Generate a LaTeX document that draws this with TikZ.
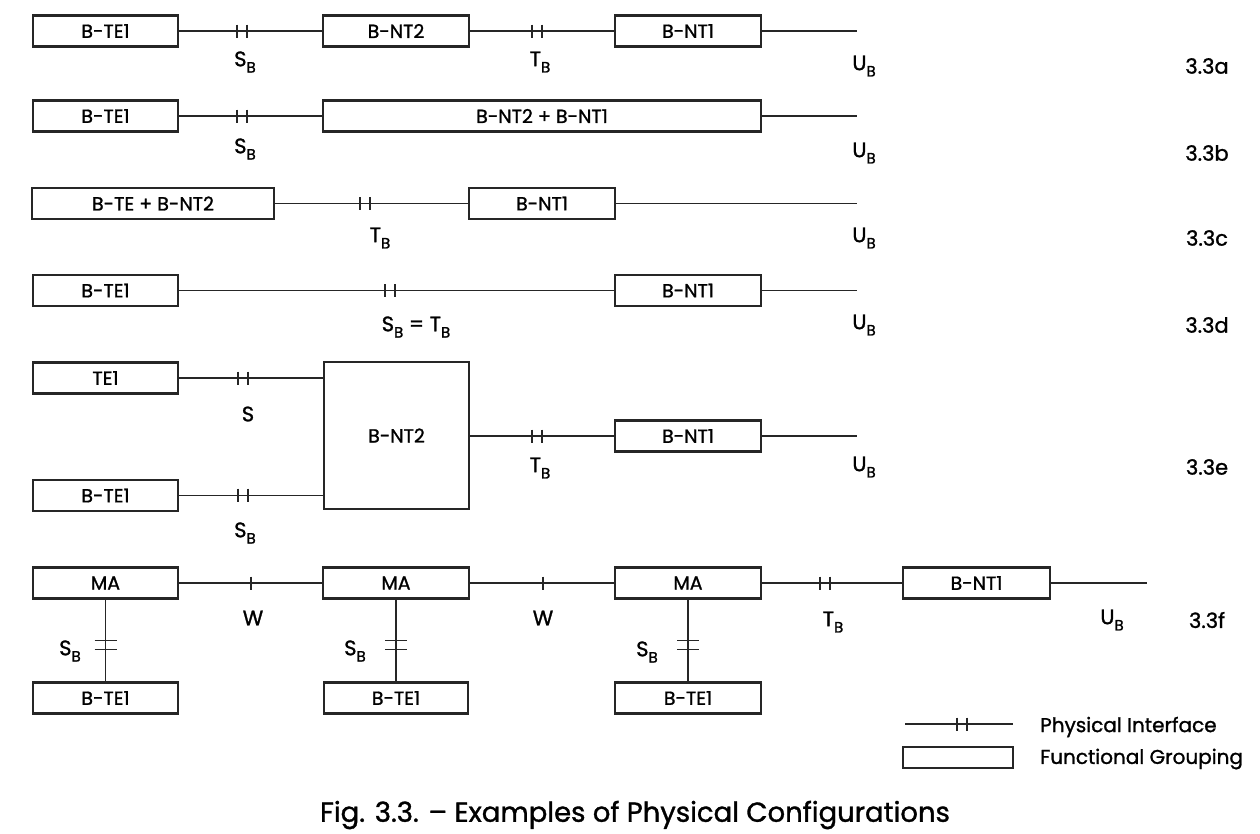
\documentclass[tikz,border=0pt]{standalone}
\usepackage{fontspec}
\setmainfont{Poppins}[UprightFeatures={FakeBold=1.2}]
\newcommand\subB[1]{#1\raisebox{-0.3em}{\fontsize{15}{15}\selectfont B}}
\begin{document}
\begin{tikzpicture}[x=1pt,y=-1pt,
  box/.style={draw=black!85, line width=2.4pt, inner sep=0pt, minimum height=31pt, font=\fontsize{19}{19}\selectfont},
  conn/.style={draw=black!85, line width=1.6pt},
  lab/.style={inner sep=0pt, font=\fontsize{21}{21}\selectfont},
  iface/.pic={\draw[line width=1.1pt, black!85] (-5,-6.5) -- (-5,6.5) (5,-6.5) -- (5,6.5);},
  wtick/.pic={\draw[line width=1.1pt, black!85] (0,-6.5) -- (0,6.5);},
  capsym/.pic={\draw[line width=1.5pt, black!85] (-11,-4.5) -- (11,-4.5) (-11,4.5) -- (11,4.5);}
]
\useasboundingbox (0,0) rectangle (1260,833);
\fill[white] (0,0) rectangle (1260,833);

% ---- 3.3a
\node[box, minimum width=145pt] (a1) at (105.5,31) {B-TE1};
\node[box, minimum width=146pt] (a2) at (396,31) {B-NT2};
\node[box, minimum width=146pt] (a3) at (688,31) {B-NT1};
\coordinate (a4) at (857,31);
\draw[conn] (a1) -- (a2);
\draw[conn] (a2) -- (a3);
\draw[conn] (a3.east) -- (a4);
\pic at (242,31) {iface};
\pic at (537,31) {iface};
\node[lab] (la1) at (245,62) {\subB{S}};
\node[lab] (la2) at (540,62) {\subB{T}};
\node[lab] (la3) at (864,66) {\subB{U}};
\node[lab] (la4) at (1207,66) {3.3a};

% ---- 3.3b
\node[box, minimum width=145pt] (b1) at (105.5,116) {B-TE1};
\node[box, minimum width=438pt] (b2) at (542,116) {B-NT2 + B-NT1};
\coordinate (b3) at (857,116);
\draw[conn] (b1) -- (b2);
\draw[conn] (b2.east) -- (b3);
\pic at (242,116) {iface};
\node[lab] (lb1) at (245,149) {\subB{S}};
\node[lab] (lb2) at (864,153) {\subB{U}};
\node[lab] (lb3) at (1207,153) {3.3b};

% ---- 3.3c
\node[box, minimum width=242pt] (c1) at (153,203.5) {B-TE + B-NT2};
\node[box, minimum width=146pt] (c2) at (542,203.5) {B-NT1};
\coordinate (c3) at (857,203.5);
\draw[conn] (c1) -- (c2);
\draw[conn] (c2.east) -- (c3);
\pic at (365,203.5) {iface};
\node[lab] (lc1) at (380,238) {\subB{T}};
\node[lab] (lc2) at (864,238) {\subB{U}};
\node[lab] (lc3) at (1207,238) {3.3c};

% ---- 3.3d
\node[box, minimum width=145pt] (d1) at (105.5,290.5) {B-TE1};
\node[box, minimum width=146pt] (d2) at (688,290.5) {B-NT1};
\coordinate (d3) at (857,290.5);
\draw[conn] (d1) -- (d2);
\draw[conn] (d2.east) -- (d3);
\pic at (390,290.5) {iface};
\node[lab] (ld1) at (416,327) {\subB{S} = \subB{T}};
\node[lab] (ld2) at (864,325) {\subB{U}};
\node[lab] (ld3) at (1207,325) {3.3d};

% ---- 3.3e
\node[box, minimum width=145pt] (e1) at (105.5,378) {TE1};
\node[box, minimum width=145pt, minimum height=147pt] (e2) at (396.5,435.5) {B-NT2};
\node[box, minimum width=145pt] (e3) at (105.5,495.5) {B-TE1};
\node[box, minimum width=146pt] (e4) at (688,436) {B-NT1};
\coordinate (e5) at (857,436);
\draw[conn] (e1.east) -- (e1.east -| e2.west);
\draw[conn] (e3.east) -- (e3.east -| e2.west);
\draw[conn] (e2.east |- e4.west) -- (e4.west);
\draw[conn] (e4.east) -- (e5);
\pic at (243,378) {iface};
\pic at (243,495) {iface};
\pic at (537,436) {iface};
\node[lab] (le1) at (248,414) {S};
\node[lab] (le2) at (245,533) {\subB{S}};
\node[lab] (le3) at (540,468) {\subB{T}};
\node[lab] (le4) at (864,467) {\subB{U}};
\node[lab] (le5) at (1207,467) {3.3e};

% ---- 3.3f
\node[box, minimum width=145pt] (f1) at (105.5,583) {MA};
\node[box, minimum width=146pt] (f2) at (396,583) {MA};
\node[box, minimum width=146pt] (f3) at (688,583) {MA};
\node[box, minimum width=147pt] (f4) at (976.5,583) {B-NT1};
\coordinate (f5) at (1147,583);
\node[box, minimum width=145pt] (g1) at (105.5,698) {B-TE1};
\node[box, minimum width=144pt] (g2) at (396,698) {B-TE1};
\node[box, minimum width=146pt] (g3) at (688,698) {B-TE1};
\draw[conn] (f1) -- (f2);
\draw[conn] (f2) -- (f3);
\draw[conn] (f3) -- (f4);
\draw[conn] (f4.east) -- (f5);
\draw[conn] (f1) -- (g1);
\draw[conn] (f2) -- (g2);
\draw[conn] (f3) -- (g3);
\pic at (251,583) {wtick};
\pic at (543,583) {wtick};
\pic at (825,583) {iface};
\pic at (105.5,645) {capsym};
\pic at (396,645) {capsym};
\pic at (688,645) {capsym};
\node[lab] (lf1) at (253,618) {W};
\node[lab] (lf2) at (543,618) {W};
\node[lab] (lf3) at (833,622) {\subB{T}};
\node[lab] (lf4) at (1112,620) {\subB{U}};
\node[lab] (lf5) at (1207,620) {3.3f};
\node[lab] (lg1) at (70,651) {\subB{S}};
\node[lab] (lg2) at (355,651) {\subB{S}};
\node[lab] (lg3) at (647,652) {\subB{S}};

% ---- legend
\coordinate (p1) at (905,724);
\coordinate (p2) at (1013,724);
\draw[conn] (p1) -- (p2);
\pic at (962,724) {iface};
\node[box, minimum width=110pt, minimum height=21pt] (q1) at (958,757.5) {};
\node[lab, anchor=west, font=\fontsize{20}{20}\selectfont] (t1) at (1040,727) {Physical Interface};
\node[lab, anchor=west, font=\fontsize{20}{20}\selectfont] (t2) at (1040,759) {Functional Grouping};

% ---- caption
\node[lab, font=\fontsize{27.5}{27.5}\selectfont] (cap) at (635,815) {Fig. 3.3. -- Examples of Physical Configurations};
\end{tikzpicture}
\end{document}
